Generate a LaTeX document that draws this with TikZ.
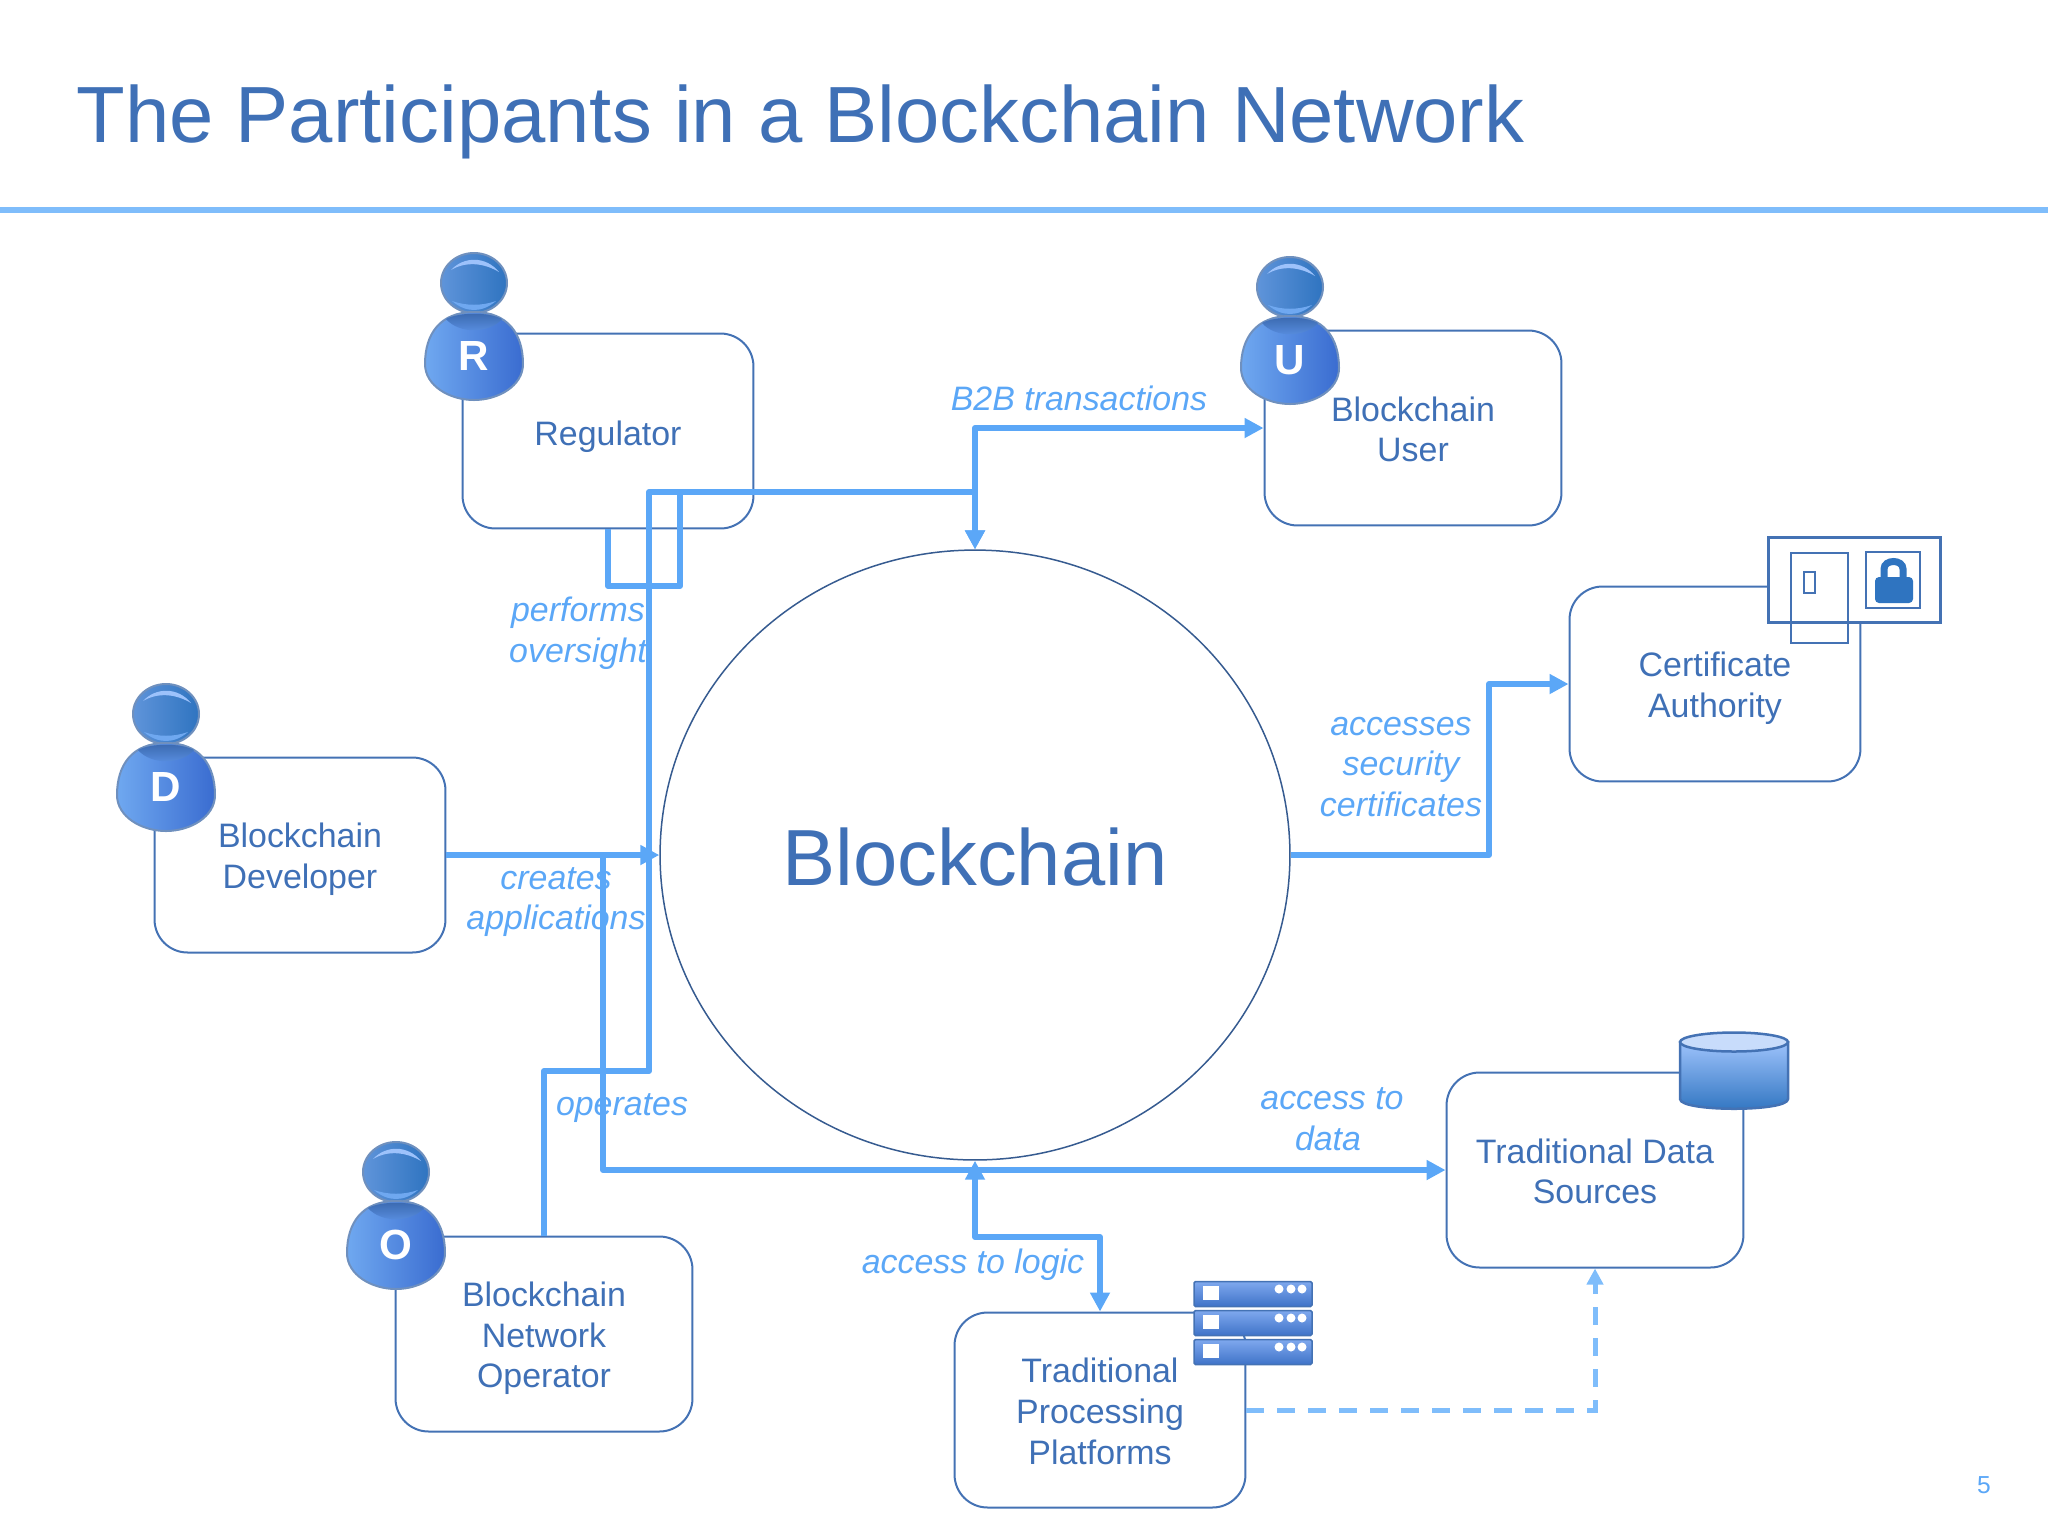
\documentclass[tikz,border=0pt]{standalone}
\usepackage{fontspec}
\setmainfont{Liberation Sans}
\usepackage{tikz}
\usetikzlibrary{positioning,shapes.geometric,arrows.meta}
\definecolor{boxline}{HTML}{4472B4}
\definecolor{boxtext}{HTML}{3F70B6}
\definecolor{connline}{HTML}{5BA7F7}
\definecolor{dashline}{HTML}{7FBDFB}
\definecolor{iconblue}{HTML}{2F74C0}
\definecolor{bodyleft}{HTML}{6FA8F0}
\definecolor{bodymid}{HTML}{5C93E6}
\definecolor{bodyright}{HTML}{3A6CD0}
\definecolor{neckdark}{HTML}{3A68AE}
\definecolor{headleft}{HTML}{5F94DA}
\definecolor{headline}{HTML}{6F90BE}
\definecolor{drumtop}{HTML}{9DC2FB}
\definecolor{drumlid}{HTML}{C8DCFB}
\definecolor{rowtop}{HTML}{7FA8EE}
\definecolor{rowbot}{HTML}{3F73C8}
\newcommand{\drop}[1]{\rule{0pt}{#1}}

\begin{document}
\begin{tikzpicture}[
            x=0.02cm, y=-0.02cm,
            block/.style={rectangle, draw=boxline, line width=0.04cm, rounded corners=0.66cm, minimum width=5.82cm, minimum height=3.9cm, inner sep=0pt, align=center, text=boxtext, font=\fontsize{19.3}{23.2}\selectfont},
            wideblock/.style={block, minimum width=5.94cm},
            label/.style={align=center, inner sep=0pt, text=connline, font=\fontsize{19.3}{23.2}\selectfont\itshape},
            arrow/.style={-{Triangle[length=0.38cm,width=0.38cm]}, draw=connline, line width=0.12cm, line join=round},
            biarrow/.style={{Triangle[length=0.38cm,width=0.38cm]}-{Triangle[length=0.38cm,width=0.38cm]}, draw=connline, line width=0.12cm, line join=round},
            dasharrow/.style={-{Triangle[length=0.32cm,width=0.32cm]}, draw=dashline, line width=0.1cm, dash pattern=on 0.35cm off 0.27cm},
            letter/.style={inner sep=0pt, text=white, font=\fontsize{24}{24}\selectfont\bfseries},
            serverrow/.style={rectangle, draw=boxline, line width=0.03cm, rounded corners=0.03cm, top color=rowtop, bottom color=rowbot, minimum width=2.36cm, minimum height=0.5cm, inner sep=0pt},
            dot/.style={circle, fill=white, minimum size=0.18cm, inner sep=0pt}
        ]
        \useasboundingbox (0,0) rectangle (2048,1536);
        % Title
        \node[anchor=base west, inner sep=0pt, text=boxtext, font=\fontsize{45.35}{50}\selectfont] (title) at (76,142) {The Participants in a Blockchain Network};
        \coordinate (ruleL) at (0,210);
        \coordinate (ruleR) at (2048,210);
        \draw[draw=dashline, line width=0.13cm] (ruleL) -- (ruleR);
        % Boxes
        \node[block] (regulator) at (608,431) {\drop{0.71cm}Regulator};
        \node[wideblock] (user) at (1413,428) {\drop{0.55cm}Blockchain\\User};
        \node[block] (ca) at (1715,684) {\drop{0.66cm}Certificate\\Authority};
        \node[block] (developer) at (300,855) {\drop{0.66cm}Blockchain\\Developer};
        \node[wideblock] (sources) at (1595,1170) {\drop{0.55cm}Traditional Data\\Sources};
        \node[wideblock] (operator) at (544,1334) {\drop{0.66cm}Blockchain\\Network\\Operator};
        \node[block] (processing) at (1100,1410) {\drop{0.55cm}Traditional\\Processing\\Platforms};
        % Blockchain
        \node[ellipse, draw=boxline!80!black, line width=0.03cm, minimum width=12.6cm, minimum height=12.2cm, inner sep=0pt, text=boxtext, font=\fontsize{45.3}{50}\selectfont] (blockchain) at (975,855) {\drop{1.22cm}Blockchain};
        % Bends
        \coordinate (hub) at (975,492);
        \coordinate (overB) at (680,586);
        \coordinate (opB) at (649,1071);
        \coordinate (devJ) at (603,855);
        \coordinate (logicB) at (975,1237);
        \coordinate (caB) at (1489,855);
        % Arrows
        \draw[arrow] (regulator.south) |- (overB) |- (hub) -- (blockchain.north);
        \draw[arrow] (operator.north) |- (opB) |- (hub) -- (blockchain.north);
        \draw[arrow] (hub) |- (user.west);
        \draw[arrow] (developer.east) -- (blockchain.west);
        \draw[arrow] (devJ) |- (sources.west);
        \draw[biarrow] (processing.north) |- (logicB) -- (blockchain.south);
        \draw[arrow] (blockchain.east) -- (caB) |- (ca.west);
        \draw[dasharrow] (processing.east) -| (sources.south);
        % Labels
        \node[label] (b2b) at (1079,398) {B2B transactions};
        \node[label] (oversight) at (578,633) {performs\\oversight};
        \node[label] (creates) at (556,902) {creates\\applications};
        \node[label] (operates) at (622,1108) {operates};
        \node[label] (accesses) at (1401,767) {accesses\\security\\certificates};
        \node[label] (todata) at (1332,1119) {access to\\data\rule{0.16cm}{0pt}};
        \node[label] (tologic) at (973,1265) {access to logic};
        \node[inner sep=0pt, text=connline, font=\fontsize{14}{14}\selectfont] (pageno) at (1984,1485) {5};
        % Persons
        \foreach \pname/\px/\py/\pletter in {regperson/474/356/R, userperson/1290/360/U, devperson/166/787/D, opperson/396/1245/O} {
            \begin{scope}[shift={(\px,\py)}]
                \draw[draw=headline, line width=0.04cm, left color=headleft, right color=iconblue] (0,-73) ellipse (33 and 30);
                \fill[bodyleft] (-22,-55) .. controls (-8,-43) and (8,-43) .. (22,-55) .. controls (8,-50) and (-8,-50) .. (-22,-55) -- cycle;
                \fill[drumtop] (-23,-86) .. controls (-10,-100) and (12,-100) .. (25,-84) .. controls (10,-93) and (-8,-95) .. (-23,-86) -- cycle;
                \draw[draw=headline, line width=0.04cm, left color=bodyleft, middle color=bodymid, right color=bodyright] (0,-44) .. controls (34,-44) and (49,-22) .. (49,8) .. controls (49,30) and (24,44) .. (0,44) .. controls (-24,44) and (-49,30) .. (-49,8) .. controls (-49,-22) and (-34,-44) .. (0,-44) -- cycle;
                \shade[top color=neckdark, bottom color=bodymid] (-28,-37) .. controls (-15,-22) and (15,-22) .. (28,-37) .. controls (15,-44) and (-15,-44) .. (-28,-37) -- cycle;
                \node[letter] (\pname) at (0,0) {\pletter};
            \end{scope}
        }
        % Certificate icon
        \draw[draw=boxline, fill=white, line width=0.06cm] (1768,537) rectangle (1940,622);
        \draw[draw=boxline, line width=0.05cm] (1791,553) rectangle (1848,643);
        \draw[draw=boxline, line width=0.05cm] (1804,572) rectangle (1815,593);
        \draw[draw=boxline, line width=0.05cm] (1866,552) rectangle (1920,608);
        \fill[iconblue, rounded corners=0.08cm] (1875,577) rectangle (1913,603);
        \draw[draw=iconblue, line width=0.14cm] (1884,578) -- (1884,569) .. controls (1884,559) and (1903,559) .. (1903,569) -- (1903,578);
        % Data cylinder
        \draw[draw=boxline, line width=0.05cm, top color=drumtop, bottom color=iconblue] (1680,1042) -- (1680,1099) .. controls (1680,1112) and (1788,1112) .. (1788,1099) -- (1788,1042) -- cycle;
        \draw[draw=boxline, line width=0.05cm, fill=drumlid] (1734,1042) ellipse (54 and 9.5);
        % Server stack
        \foreach \rowname/\rowy in {rowa/1294, rowb/1323, rowc/1352} {
            \node[serverrow] (\rowname) at (1253,\rowy) {};
            \fill[white] (1203,\rowy-8) rectangle (1219,\rowy+6);
            \foreach \dotx in {1279,1291,1302} {
                \node[dot] at (\dotx,\rowy-5) {};
            }
        }
    \end{tikzpicture}
\end{document}
